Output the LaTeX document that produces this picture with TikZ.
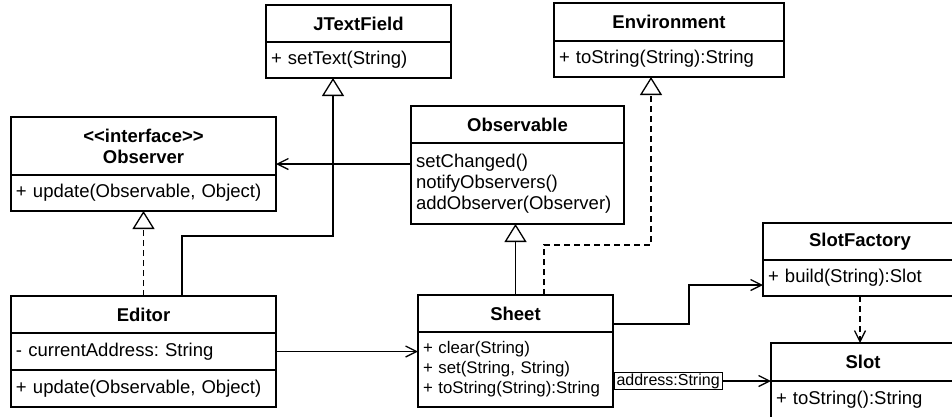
\documentclass[tikz,border=0pt]{standalone}
\usepackage{fontspec}
\setmainfont{Liberation Sans}
\usetikzlibrary{positioning,arrows.meta}

\newcommand\umlfont{\frenchspacing\fontsize{18.5}{21}\selectfont}
\newcommand\umlsmall{\frenchspacing\fontsize{16.8}{20}\selectfont}

\tikzset{
  classhead/.style={draw, line width=1.3pt, minimum width=#1, minimum height=37pt,
    inner sep=0pt, outer sep=0pt, align=center, font=\umlfont\bfseries},
  classbody/.style={draw, line width=1.3pt, text width=#1, minimum height=36pt,
    inner xsep=5pt, inner ysep=0pt, outer sep=0pt, align=left, font=\umlfont},
  gen/.style={line width=1.3pt, -{Triangle[open, length=18pt, width=22pt]}},
  assoc/.style={line width=1.3pt, -{Straight Barb[length=11pt, width=11pt]}},
  dep/.style={dash pattern=on 6pt off 4pt},
  lbl/.style={draw, line width=1pt, fill=white, inner xsep=2.5pt, inner ysep=1.5pt,
    outer sep=0pt, font=\frenchspacing\fontsize{16}{18}\selectfont}
}

\begin{document}
\begin{tikzpicture}[x=1pt, y=-1pt]
\useasboundingbox (0,0) rectangle (952,416);
\clip (0,0) rectangle (952,416);

% classes
\node[classhead=185pt, anchor=north west] (jtf) at (266,5) {JTextField};
\node[classbody=175pt, below=0pt of jtf] (jtfops) {+ setText(String)};

\node[classhead=230pt, minimum height=38pt, anchor=north west] (env) at (554,3) {Environment};
\node[classbody=220pt, below=0pt of env] (envops) {+ toString(String):String};

\node[classhead=265pt, minimum height=58pt, anchor=north west] (observer) at (11,117)
  {<\kern0pt<interface>\kern0pt>\\Observer};
\node[classbody=255pt, below=0pt of observer] (observerops) {+ update(Observable, Object)};

\node[classhead=213pt, anchor=north west] (observable) at (411,106) {Observable};
\node[classbody=203pt, minimum height=81pt, below=0pt of observable] (observableops)
  {setChanged()\\notifyObservers()\\addObserver(Observer)};

\node[classhead=265pt, anchor=north west] (editor) at (11,296) {Editor};
\node[classbody=255pt, minimum height=37pt, below=0pt of editor] (editorattr) {- currentAddress: String};
\node[classbody=255pt, minimum height=37pt, below=0pt of editorattr] (editorops) {+ update(Observable, Object)};

\node[classhead=195pt, anchor=north west] (sheet) at (418,295) {Sheet};
\node[classbody=185pt, minimum height=75pt, font=\umlsmall, below=0pt of sheet] (sheetops)
  {+ clear(String)\\+ set(String, String)\\+ toString(String):String};

\node[classhead=194pt, anchor=north west] (factory) at (763,223) {SlotFactory};
\node[classbody=184pt, below=0pt of factory] (factoryops) {+ build(String):Slot};

\node[classhead=184pt, minimum height=38pt, anchor=north west] (slot) at (771,343) {Slot};
\node[classbody=174pt, minimum height=38pt, below=0pt of slot] (slotops) {+ toString():String};

% generalizations
\draw[gen] ([xshift=38.5pt]editor.north) -- ++(0,-60) -| ([xshift=-25.5pt]jtfops.south);
\draw[gen, dep] (editor.north) -- (observerops.south);
\draw[gen] (sheet.north) -- (sheet.north |- observableops.south);
\draw[gen, dep] ([xshift=28.5pt]sheet.north) -- ++(0,-50) -| ([xshift=-18pt]envops.south);

% associations
\coordinate (notify) at ([yshift=19.5pt]observableops.west);
\draw[assoc] (notify) -- (notify -| observer.east);
\draw[assoc] (editorattr.east) -- (editorattr.east -| sheetops.west);
\draw[assoc] ([yshift=-10.5pt]sheet.east) -- ++(76,0) |- ([yshift=-7pt]factoryops.west);
\draw[assoc, dep] (factoryops.south) -- (factoryops.south |- slot.north);
\draw[assoc] (sheetops.east |- slot.south west) -- (slot.south west)
  node[lbl, pos=0, anchor=west, xshift=1pt] (addr) {address:String};

\end{tikzpicture}
\end{document}
